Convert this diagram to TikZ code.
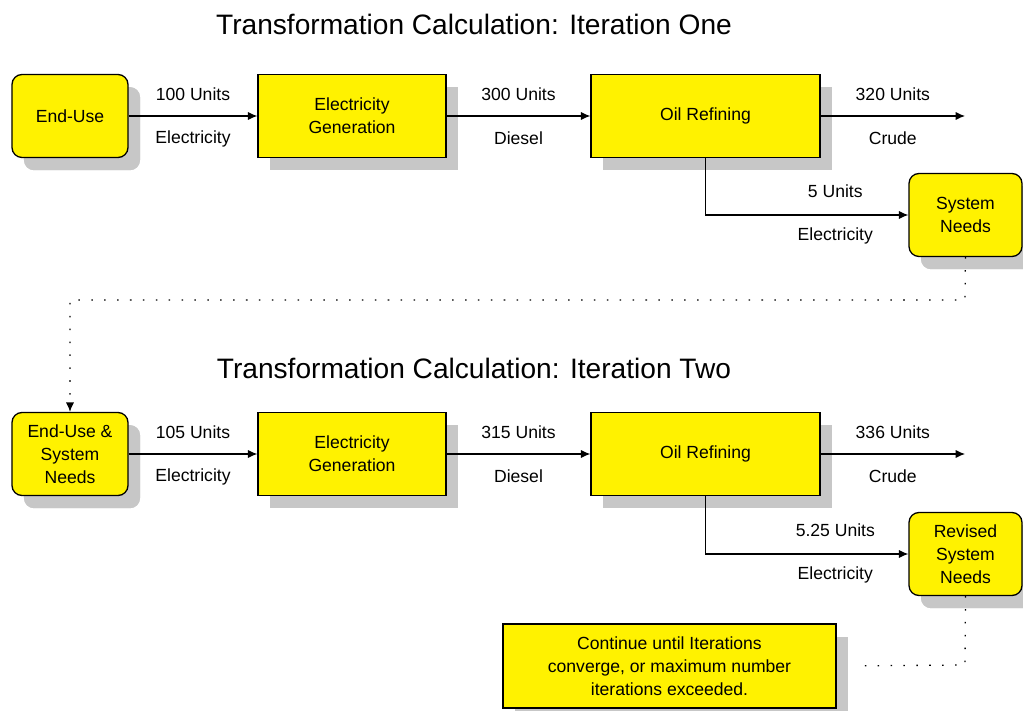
\documentclass[tikz,border=0pt]{standalone}
\usepackage{fontspec}
\setmainfont{Liberation Sans}
\usetikzlibrary{shadows,arrows.meta}
\tikzset{
  flowbox/.style={draw,fill=yellow,line width=1.1pt,align=center,inner sep=0pt,
    minimum height=2.49cm,
    drop shadow={shadow xshift=0.36cm,shadow yshift=-0.38cm,fill=black!22,opacity=1}},
  endbox/.style={flowbox,rounded corners=0.3cm},
  flow/.style={line width=1pt,-{Latex[length=8pt,width=7pt]}},
  loopline/.style={line width=1.1pt,dash pattern=on 1.3pt off 9.7pt},
  heading/.style={font=\fontsize{24}{28}\selectfont}
}
\newcommand{\procbox}[4][]{\node[flowbox,#1] at (#2) (#3) {#4}}

\begin{document}
\begin{tikzpicture}[x=0.03cm,y=-0.03cm,font=\fontsize{15}{19.5}\selectfont]
  \useasboundingbox (0,0) rectangle (1023,711);

  % iteration one
  \node[heading] (title1) at (474,24) {Transformation Calculation: Iteration One};
  \procbox[endbox,minimum width=3.48cm]{70,116}{enduse}{End-Use};
  \procbox[minimum width=5.64cm]{352,116}{elecgen}{Electricity\\Generation};
  \procbox[minimum width=6.87cm]{705.5,116}{oilref}{Oil Refining};
  \procbox[endbox,minimum width=3.39cm]{965.5,215}{sysneeds}{System\\Needs};
  \coordinate (crude) at (965,116);

  \draw[flow] (enduse) -- node[yshift=0.66cm] {100 Units} node[yshift=-0.68cm] {Electricity} (elecgen);
  \draw[flow] (elecgen) -- node[yshift=0.66cm] {300 Units} node[yshift=-0.68cm] {Diesel} (oilref);
  \draw[flow] (oilref) -- node[yshift=0.66cm] {320 Units} node[yshift=-0.68cm] {Crude} (crude);
  \draw[flow] (oilref.south) |- node[pos=0.82,yshift=0.7cm] {5 Units}
    node[pos=0.82,yshift=-0.64cm] {Electricity} (sysneeds.west);

  % iteration two
  \node[heading] (title2) at (474,368) {Transformation Calculation: Iteration Two};
  \procbox[endbox,minimum width=3.48cm]{70,454}{enduse2}{End-Use \&\\System\\Needs};
  \procbox[minimum width=5.64cm]{352,454}{elecgen2}{Electricity\\Generation};
  \procbox[minimum width=6.87cm]{705.5,454}{oilref2}{Oil Refining};
  \procbox[endbox,minimum width=3.39cm]{965.5,554}{revneeds}{Revised\\System\\Needs};
  \coordinate (crude2) at (965,454);

  \draw[flow] (enduse2) -- node[yshift=0.66cm] {105 Units} node[yshift=-0.68cm] {Electricity} (elecgen2);
  \draw[flow] (elecgen2) -- node[yshift=0.66cm] {315 Units} node[yshift=-0.68cm] {Diesel} (oilref2);
  \draw[flow] (oilref2) -- node[yshift=0.66cm] {336 Units} node[yshift=-0.68cm] {Crude} (crude2);
  \draw[flow] (oilref2.south) |- node[pos=0.82,yshift=0.7cm] {5.25 Units}
    node[pos=0.82,yshift=-0.64cm] {Electricity} (revneeds.west);

  % feed back
  \coordinate (loopR) at (965,300);
  \coordinate (loopL) at (70,300);
  \draw[loopline,-{Latex[length=8pt,width=7pt]}] (sysneeds.south) -- (loopR) -- (loopL) -- (enduse2.north);

  \procbox[minimum width=9.99cm,minimum height=2.52cm]{669.5,666}{note}{Continue until Iterations\\converge, or maximum number\\iterations exceeded.};
  \coordinate (noteR) at (965,665);
  \draw[loopline,shorten >=0.63cm] (revneeds.south) -- (noteR) -- (note.east);
\end{tikzpicture}
\end{document}
